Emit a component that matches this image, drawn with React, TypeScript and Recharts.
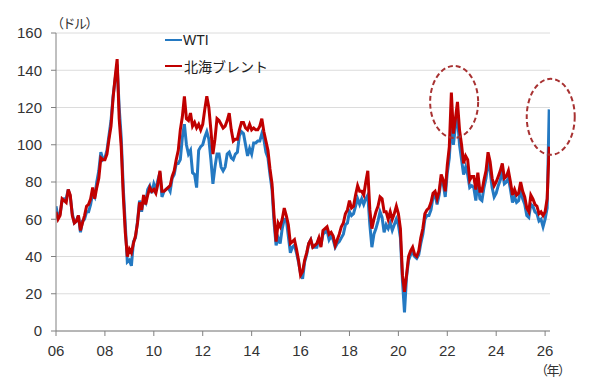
import React from 'react';
import { LineChart, Line, XAxis, YAxis, CartesianGrid, ReferenceDot } from 'recharts';

// Monthly values starting Jan 2006 (US$/barrel)
const wti: number[] = [
  // 2006
  67, 61, 63, 70, 71, 71, 76, 72, 63, 58, 59, 62,
  // 2007
  53, 59, 60, 64, 64, 68, 74, 72, 80, 86, 96, 92,
  // 2008
  93, 97, 105, 113, 126, 135, 143, 120, 104, 77, 57, 37,
  // 2009
  38, 35, 48, 50, 59, 70, 64, 71, 69, 76, 78, 74,
  // 2010
  79, 76, 81, 85, 72, 75, 76, 77, 75, 82, 84, 90,
  // 2011
  90, 92, 104, 111, 100, 95, 97, 85, 84, 77, 97, 99,
  // 2012
  100, 104, 107, 103, 92, 79, 88, 95, 95, 88, 86, 88,
  // 2013
  95, 96, 93, 92, 95, 96, 105, 107, 106, 100, 94, 98,
  // 2014
  95, 101, 101, 102, 102, 106, 103, 96, 93, 84, 76, 58,
  // 2015
  46, 50, 47, 55, 60, 60, 51, 42, 45, 46, 42, 37,
  // 2016
  31, 28, 37, 41, 47, 49, 45, 45, 45, 50, 46, 52,
  // 2017
  53, 54, 49, 51, 49, 45, 47, 48, 50, 52, 57, 58,
  // 2018
  64, 62, 63, 67, 71, 68, 71, 68, 71, 73, 57, 45,
  // 2019
  52, 55, 59, 64, 61, 53, 57, 55, 58, 54, 57, 60,
  // 2020
  57, 50, 27, 10, 29, 38, 41, 42, 40, 39, 41, 47,
  // 2021
  52, 60, 62, 62, 65, 72, 73, 68, 73, 82, 79, 72,
  // 2022
  85, 93, 112, 100, 110, 115, 100, 92, 84, 88, 84, 77,
  // 2023
  78, 77, 70, 80, 71, 70, 77, 82, 91, 86, 77, 72,
  // 2024
  74, 78, 81, 86, 79, 80, 82, 76, 69, 72, 69, 70,
  // 2025
  76, 71, 68, 62, 61, 68, 67, 64, 63, 59, 60, 56,
  // 2026
  60, 66, 119,
];

const brent: number[] = [
  // 2006
  64, 60, 62, 71, 70, 69, 76, 73, 62, 58, 59, 62,
  // 2007
  54, 58, 62, 67, 68, 71, 77, 71, 77, 82, 93, 92,
  // 2008
  92, 95, 103, 110, 125, 136, 146, 114, 99, 73, 53, 40,
  // 2009
  44, 42, 47, 51, 58, 69, 65, 73, 68, 73, 77, 75,
  // 2010
  76, 74, 79, 86, 75, 75, 76, 77, 78, 83, 86, 92,
  // 2011
  97, 108, 115, 126, 114, 113, 117, 110, 112, 109, 111, 108,
  // 2012
  111, 119, 126, 120, 108, 95, 103, 114, 113, 111, 109, 110,
  // 2013
  113, 117, 108, 102, 103, 103, 108, 112, 112, 109, 108, 111,
  // 2014
  108, 109, 108, 108, 110, 114, 107, 102, 97, 87, 79, 62,
  // 2015
  48, 58, 56, 60, 66, 62, 57, 47, 48, 49, 44, 38,
  // 2016
  30, 32, 38, 42, 47, 49, 45, 46, 47, 50, 45, 54,
  // 2017
  55, 56, 52, 53, 51, 46, 49, 52, 56, 58, 63, 65,
  // 2018
  70, 66, 67, 73, 78, 75, 75, 73, 80, 86, 65, 55,
  // 2019
  60, 64, 67, 72, 71, 64, 64, 60, 64, 60, 63, 67,
  // 2020
  63, 55, 30, 21, 30, 40, 43, 45, 41, 40, 43, 50,
  // 2021
  55, 63, 65, 66, 69, 74, 75, 71, 75, 84, 81, 75,
  // 2022
  89, 99, 128, 106, 114, 123, 108, 100, 90, 94, 92, 81,
  // 2023
  83, 83, 76, 85, 75, 75, 81, 86, 96, 91, 82, 78,
  // 2024
  80, 83, 86, 90, 82, 83, 86, 80, 73, 76, 73, 74,
  // 2025
  80, 75, 72, 66, 64, 73, 71, 68, 67, 63, 64, 62,
  // 2026
  64, 71, 99,
];

const startYear = 2006;
const yearTicks = [2006, 2008, 2010, 2012, 2014, 2016, 2018, 2020, 2022, 2024, 2026];
const yearTickLabels = ['06', '08', '10', '12', '14', '16', '18', '20', '22', '24', '26'];
const yTicks = [0, 20, 40, 60, 80, 100, 120, 140, 160];
const seriesNames = { wti: 'WTI', brent: '北海ブレント' };
const highlights = [
  { x: 2022.28, y: 123 },
  { x: 2026.23, y: 115 },
];

const data = wti.map((v, i) => ({ t: startYear + i / 12, wti: v, brent: brent[i] }));

const BLUE = '#2479c2';
const RED = '#c00000';
const FONT = '"Liberation Sans", Arial, "Noto Sans CJK JP", sans-serif';
const JP = '"Noto Sans CJK JP", sans-serif';

const ellipseShape = (rx: number, ry: number) => (props: any) => (
  <ellipse
    cx={props.cx}
    cy={props.cy}
    rx={rx}
    ry={ry}
    fill="none"
    stroke="#a83232"
    strokeWidth={2}
    strokeDasharray="5 3"
  />
);

export default function App() {
  return (
    <div style={{ position: 'absolute', left: 0, top: 0, width: 600, height: 389, background: '#fff' }}>
      <LineChart
        width={600}
        height={389}
        data={data}
        margin={{ top: 33, right: 50, bottom: 28, left: 0 }}
      >
        <CartesianGrid horizontal vertical={false} stroke="#dcdcdc" />
        <XAxis
          dataKey="t"
          type="number"
          domain={[2006, 2026.2]}
          ticks={yearTicks}
          tickFormatter={(v: number) => yearTickLabels[yearTicks.indexOf(v)] ?? ''}
          tickSize={5}
          tickMargin={9}
          height={30}
          stroke="#808080"
          tick={{ fill: '#333', fontSize: 15, fontFamily: FONT }}
          allowDataOverflow
        />
        <YAxis
          type="number"
          domain={[0, 160]}
          ticks={yTicks}
          width={56}
          tickSize={5}
          tickMargin={9}
          stroke="#808080"
          tick={{ fill: '#333', fontSize: 15, fontFamily: FONT }}
        />
        <Line
          type="linear"
          dataKey="wti"
          name={seriesNames.wti}
          stroke={BLUE}
          strokeWidth={3}
          dot={false}
          isAnimationActive={false}
        />
        <Line
          type="linear"
          dataKey="brent"
          name={seriesNames.brent}
          stroke={RED}
          strokeWidth={3}
          dot={false}
          isAnimationActive={false}
        />
        <ReferenceDot x={highlights[0].x} y={highlights[0].y} ifOverflow="visible" shape={ellipseShape(24, 36)} />
        <ReferenceDot x={highlights[1].x} y={highlights[1].y} ifOverflow="visible" shape={ellipseShape(24, 38)} />
      </LineChart>
      <div style={{ position: 'absolute', left: 165, top: 27, fontFamily: FONT, fontSize: 14, color: '#222', lineHeight: '26px' }}>
        <div style={{ display: 'flex', alignItems: 'center' }}>
          <span style={{ display: 'inline-block', width: 17, height: 2, background: BLUE, marginRight: 1 }} />
          <span>{seriesNames.wti}</span>
        </div>
        <div style={{ display: 'flex', alignItems: 'center' }}>
          <span style={{ display: 'inline-block', width: 17, height: 2, background: RED, marginRight: 2 }} />
          <span style={{ fontFamily: JP }}>{seriesNames.brent}</span>
        </div>
      </div>
      <div style={{ position: 'absolute', left: 51, top: 13, fontSize: 13, color: '#333', fontFamily: JP, whiteSpace: 'nowrap', letterSpacing: -1.5 }}>
        （ドル）
      </div>
      <div style={{ position: 'absolute', left: 535, top: 360, fontSize: 13, color: '#333', fontFamily: JP, whiteSpace: 'nowrap', letterSpacing: -1.5 }}>
        （年）
      </div>
    </div>
  );
}
